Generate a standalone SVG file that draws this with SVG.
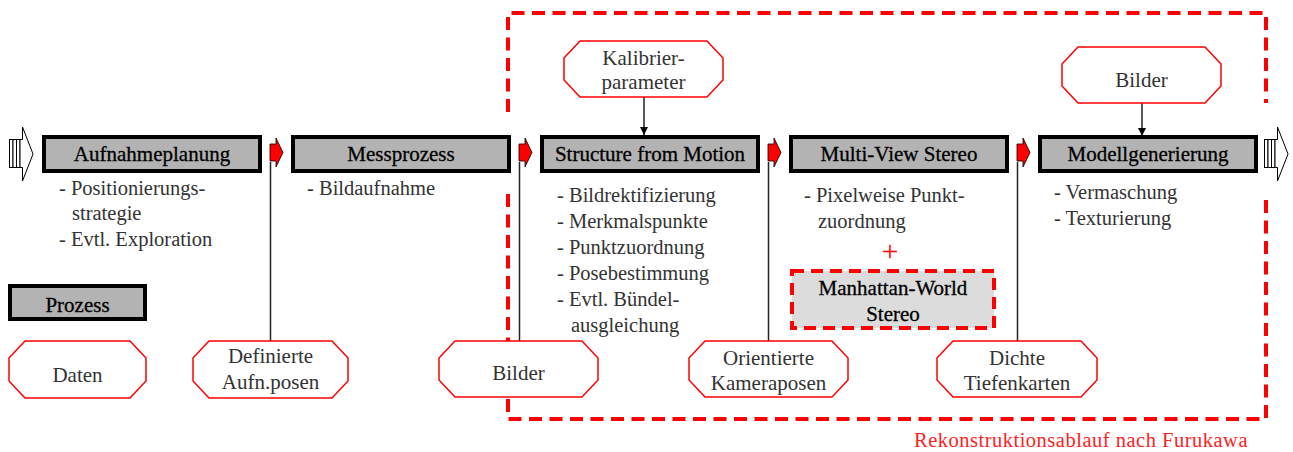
<svg xmlns="http://www.w3.org/2000/svg" width="1293" height="452" viewBox="0 0 1293 452">
<style>
.proc{fill:#b3b3b3;stroke:#000;stroke-width:4}
.ptxt{font-family:"Liberation Serif","Times New Roman",Times,"DejaVu Serif",serif;font-size:21px;fill:#000;stroke:#000;stroke-width:0.3;text-anchor:middle}
.desc{font-family:"Liberation Serif","Times New Roman",Times,"DejaVu Serif",serif;font-size:20.5px;fill:#333}
.data{fill:#fff;stroke:#f00;stroke-width:1.5}
.dtxt{font-family:"Liberation Serif","Times New Roman",Times,"DejaVu Serif",serif;font-size:21px;fill:#333;text-anchor:middle}
.rarr{fill:#f00;stroke:#000;stroke-width:0.8}
.link{fill:none;stroke:#222;stroke-width:1.5}
.bigarr{fill:#fff;stroke:#000;stroke-width:1}
</style>
<defs>
<marker id="ah" viewBox="0 0 10 10" refX="10" refY="5" markerWidth="8" markerHeight="8" markerUnits="userSpaceOnUse" orient="auto">
<path d="M0,0 L10,5 L0,10 z" fill="#000"/>
</marker>
</defs>

<g id="boundary" fill="none" stroke="#f00" stroke-width="4" stroke-dasharray="13 7.5">
<path d="M508,112 L508,13 L1266,13 L1266,103"/>
<path d="M1266,200 L1266,419 L508,419 L508,193"/>
</g>
<text id="caption" x="1248" y="447" font-family="Liberation Serif, Times New Roman, Times, DejaVu Serif, serif" font-size="20.5" letter-spacing="0.5" fill="#f22" text-anchor="end">Rekonstruktionsablauf nach Furukawa</text>

<g id="connectors">
<line class="link" x1="270.5" y1="162" x2="270.5" y2="341"/>
<line class="link" x1="519.5" y1="162" x2="519.5" y2="341"/>
<line class="link" x1="768.5" y1="162" x2="768.5" y2="341"/>
<line class="link" x1="1017.5" y1="162" x2="1017.5" y2="341"/>
<line class="link" x1="644" y1="97" x2="644" y2="135" marker-end="url(#ah)"/>
<line class="link" x1="1142" y1="103" x2="1142" y2="136" marker-end="url(#ah)"/>
<polygon class="rarr" points="270,144 276,144 276,138 283,152.5 276,167 276,161 270,161"/>
<polygon class="rarr" points="519,144 525,144 525,138 532,152.5 525,167 525,161 519,161"/>
<polygon class="rarr" points="768,144 774,144 774,138 781,152.5 774,167 774,161 768,161"/>
<polygon class="rarr" points="1017,144 1023,144 1023,138 1030,152.5 1023,167 1023,161 1017,161"/>
</g>

<g id="input-arrow">
<rect class="bigarr" x="9.5" y="139.5" width="3.5" height="28"/>
<rect class="bigarr" x="13" y="139.5" width="3.5" height="28"/>
<rect class="bigarr" x="16.5" y="139.5" width="3.5" height="28"/>
<polygon class="bigarr" points="20,139.5 22.5,139.5 22.5,127 33,154 22.5,181 22.5,167.5 20,167.5"/>
</g>
<g id="output-arrow">
<rect class="bigarr" x="1264.5" y="139.5" width="3.5" height="28"/>
<rect class="bigarr" x="1268" y="139.5" width="3.5" height="28"/>
<rect class="bigarr" x="1271.5" y="139.5" width="3.5" height="28"/>
<polygon class="bigarr" points="1275,139.5 1277.5,139.5 1277.5,127 1288,154 1277.5,181 1277.5,167.5 1275,167.5"/>
</g>

<g id="aufnahmeplanung">
<rect class="proc" x="44" y="137" width="216" height="34"/>
<text class="ptxt" x="152" y="161">Aufnahmeplanung</text>
<text class="desc" x="59" y="195">- Positionierungs-</text>
<text class="desc" x="72" y="220">strategie</text>
<text class="desc" x="59" y="246">- Evtl. Exploration</text>
</g>

<g id="messprozess">
<rect class="proc" x="293" y="137" width="216" height="34"/>
<text class="ptxt" x="401" y="161">Messprozess</text>
<text class="desc" x="307" y="195">- Bildaufnahme</text>
</g>

<g id="sfm">
<rect class="proc" x="542" y="137" width="216" height="34"/>
<text class="ptxt" x="650" y="161">Structure from Motion</text>
<text class="desc" x="557" y="202">- Bildrektifizierung</text>
<text class="desc" x="557" y="228">- Merkmalspunkte</text>
<text class="desc" x="557" y="254">- Punktzuordnung</text>
<text class="desc" x="557" y="280">- Posebestimmung</text>
<text class="desc" x="557" y="306">- Evtl. Bündel-</text>
<text class="desc" x="571" y="332">ausgleichung</text>
</g>

<g id="mvs">
<rect class="proc" x="791" y="137" width="216" height="34"/>
<text class="ptxt" x="899" y="161">Multi-View Stereo</text>
<text class="desc" x="804" y="202">- Pixelweise Punkt-</text>
<text class="desc" x="818" y="228">zuordnung</text>
<text x="890" y="261" font-family="Liberation Serif, Times New Roman, Times, DejaVu Serif, serif" font-size="30" fill="#f00" text-anchor="middle">+</text>
</g>

<g id="manhattan">
<rect x="792" y="271" width="202" height="57" fill="#dcdcdc" stroke="#f00" stroke-width="4" stroke-dasharray="12 7"/>
<text class="ptxt" x="893" y="295">Manhattan-World</text>
<text class="ptxt" x="893" y="321">Stereo</text>
</g>

<g id="modellgenerierung">
<rect class="proc" x="1040" y="137" width="216" height="34"/>
<text class="ptxt" x="1148" y="161">Modellgenerierung</text>
<text class="desc" x="1054" y="199">- Vermaschung</text>
<text class="desc" x="1054" y="225">- Texturierung</text>
</g>

<g id="legend-prozess">
<rect class="proc" x="10" y="286" width="135" height="33"/>
<text class="ptxt" x="77.5" y="312">Prozess</text>
</g>

<g id="legend-daten">
<polygon class="data" points="25,341 130,341 146,358 146,381 130,398 25,398 9,381 9,358"/>
<text class="dtxt" x="77.5" y="382">Daten</text>
</g>

<g id="aufnposen">
<polygon class="data" points="209,341 332,341 348,358 348,381 332,398 209,398 193,381 193,358"/>
<text class="dtxt" x="270.5" y="363">Definierte</text>
<text class="dtxt" x="270.5" y="389">Aufn.posen</text>
</g>

<g id="bilder-unten">
<polygon class="data" points="455,341 582,341 598,358 598,380 582,397 455,397 439,380 439,358"/>
<text class="dtxt" x="518.5" y="380">Bilder</text>
</g>

<g id="kameraposen">
<polygon class="data" points="705,341 832,341 848,358 848,380 832,397 705,397 689,380 689,358"/>
<text class="dtxt" x="768.5" y="365">Orientierte</text>
<text class="dtxt" x="768.5" y="390">Kameraposen</text>
</g>

<g id="tiefenkarten">
<polygon class="data" points="953,341 1081,341 1097,358 1097,380 1081,397 953,397 937,380 937,358"/>
<text class="dtxt" x="1017" y="365">Dichte</text>
<text class="dtxt" x="1017" y="390">Tiefenkarten</text>
</g>

<g id="kalibrierparameter">
<polygon class="data" points="580,41 707,41 723,58 723,80 707,97 580,97 564,80 564,58"/>
<text class="dtxt" x="643.5" y="65">Kalibrier-</text>
<text class="dtxt" x="643.5" y="89">parameter</text>
</g>

<g id="bilder-oben">
<polygon class="data" points="1078,47 1205,47 1221,64 1221,86 1205,103 1078,103 1062,86 1062,64"/>
<text class="dtxt" x="1141.5" y="87">Bilder</text>
</g>
</svg>
